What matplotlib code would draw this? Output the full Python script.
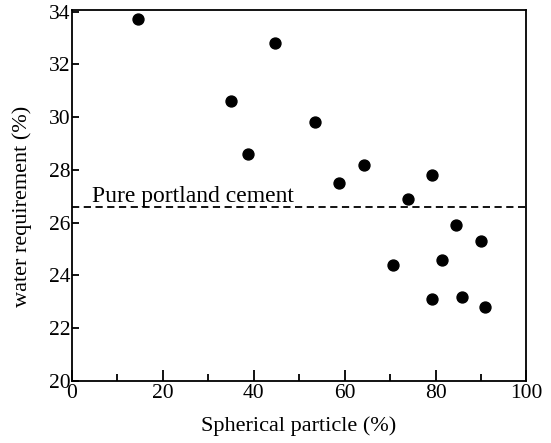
import matplotlib
matplotlib.use("Agg")
import matplotlib.pyplot as plt
from matplotlib.ticker import MultipleLocator

# spherical particle content (%) and water requirement (%)
sph = [14.7, 44.8, 35.1, 38.8, 53.6, 64.2, 58.7, 79.2, 74.0,
       84.5, 89.9, 70.7, 81.5, 79.2, 85.9, 90.8]
water = [33.7, 32.8, 30.6, 28.6, 29.8, 28.2, 27.5, 27.8, 26.9,
         25.9, 25.3, 24.4, 24.6, 23.1, 23.2, 22.8]
portland = 26.6
xticks = [0, 20, 40, 60, 80, 100]
yticks = [20, 22, 24, 26, 28, 30, 32, 34]

plt.rcParams['font.family'] = ['Liberation Serif', 'DejaVu Serif']

fig = plt.figure(figsize=(5.51, 4.43), dpi=100)
ax = fig.add_axes([0.130, 0.140, 0.8255, 0.837])

ax.scatter(sph, water, s=62, color='black', zorder=3)
ax.axhline(portland, color='black', lw=1.3, ls=(0, (4, 2.5)))
ax.text(4.4, portland + 0.2, "Pure portland cement", fontsize=17, va='baseline', ha='left')

ax.set_xlim(0, 100)
ax.set_ylim(20, 34.05)
ax.set_xticks(xticks)
ax.set_yticks(yticks)
ax.xaxis.set_minor_locator(MultipleLocator(10))
ax.tick_params(axis='x', which='major', direction='in', length=8, width=1.3, labelsize=15.5, pad=2)
ax.tick_params(axis='x', which='minor', direction='in', length=5, width=1.3)
ax.tick_params(axis='y', which='major', direction='in', length=5, width=1.3, labelsize=15.5, pad=1)

for s in ax.spines.values():
    s.set_linewidth(1.3)

ax.set_xlabel("Spherical particle (%)", fontsize=16, labelpad=10)
ax.set_ylabel("water requirement (%)", fontsize=16)
ax.yaxis.set_label_coords(-0.087, 0.47)

fig.savefig("out.png", dpi=100)
